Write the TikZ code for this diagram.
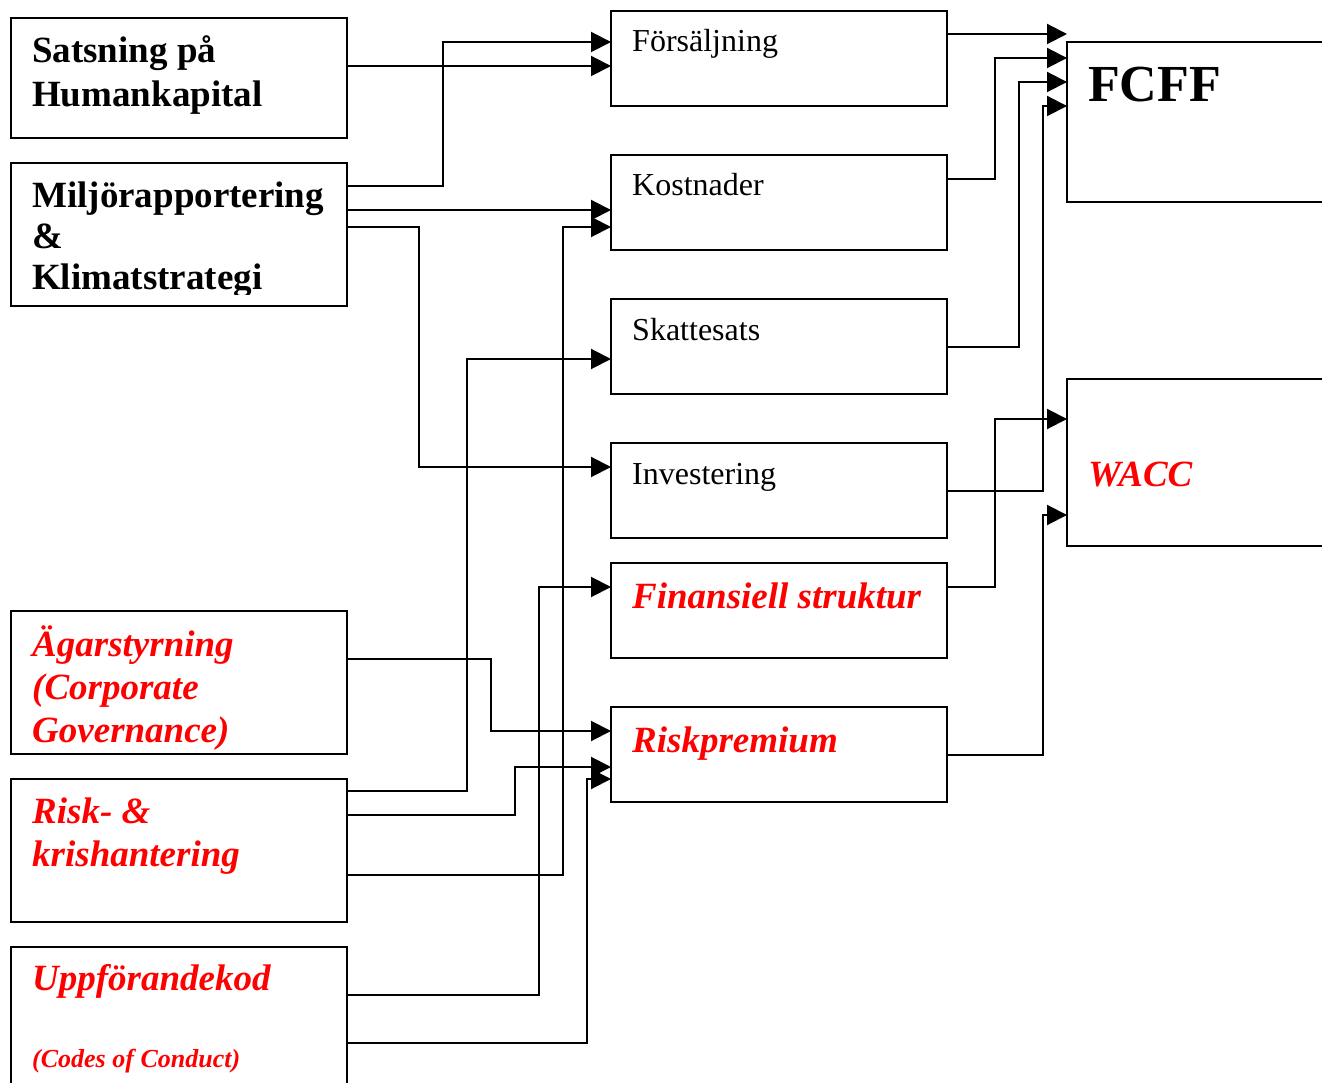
\documentclass[tikz,border=0pt]{standalone}
\usepackage{fontspec}
\setmainfont{Liberation Serif}
\usetikzlibrary{arrows.meta}
\begin{document}
\begin{tikzpicture}[x=1pt,y=-1pt,
  box/.style={draw,line width=2pt,inner sep=0pt,outer sep=0pt,anchor=north west,minimum width=336pt,minimum height=95pt},
  link/.style={line width=2pt},
  arr/.style={link,-{Triangle[length=20pt,width=20pt]}},
  lbl/.style={anchor=base west,inner sep=0pt,align=left},
  bigb/.style={lbl,font=\fontsize{37}{43}\selectfont\bfseries},
  redbi/.style={lbl,text=red,font=\fontsize{37}{43}\selectfont\bfseries\itshape},
  plain/.style={lbl,font=\fontsize{32}{38}\selectfont}]
\useasboundingbox (0,0) rectangle (1322,1083);

% left column: drivers
\node[box,minimum height=120pt] (sat) at (11,18) {};
\node[box,minimum height=143pt] (mil) at (11,163) {};
\node[box,minimum height=143pt] (aga) at (11,611) {};
\node[box,minimum height=143pt] (risk) at (11,779) {};
\node[box,minimum height=160pt] (upp) at (11,947) {};

% middle column: value components
\node[box] (fors) at (611,11) {};
\node[box] (kost) at (611,155) {};
\node[box] (skat) at (611,299) {};
\node[box] (inv) at (611,443) {};
\node[box] (fin) at (611,563) {};
\node[box] (rp) at (611,707) {};

% right column: results
\node[box,minimum width=300pt,minimum height=160pt] (fcff) at (1067,42) {};
\node[box,minimum width=300pt,minimum height=167pt] (wacc) at (1067,379) {};

% labels (multi-line labels are placed by the baseline of their last line)
\node[bigb,font=\fontsize{37}{44}\selectfont\bfseries] (tsat) at (32,107) {Satsning på\\Humankapital};
\begin{scope}
  \clip (13,165) rectangle (345,294);
  \node[bigb,font=\fontsize{37}{41}\selectfont\bfseries] (tmil) at (32,290) {Miljörapportering\\\&\\Klimatstrategi};
\end{scope}
\node[redbi] (taga) at (32,742) {Ägarstyrning\\(Corporate\\Governance)};
\node[redbi] (trisk) at (32,866) {Risk- \&\\krishantering};
\node[redbi] (tupp) at (32,990) {Uppförandekod};
\node[redbi,font=\fontsize{26}{30}\selectfont\bfseries\itshape] (tcoc) at (32,1067) {(Codes of Conduct)};

\node[plain] (tfors) at (632,52) {Försäljning};
\node[plain] (tkost) at (632,196) {Kostnader};
\node[plain] (tskat) at (632,340) {Skattesats};
\node[plain] (tinv) at (632,484) {Investering};
\node[redbi] (tfin) at (632,608) {Finansiell struktur};
\node[redbi] (trp) at (632,752) {Riskpremium};

\node[lbl,font=\fontsize{52}{60}\selectfont\bfseries] (tfcff) at (1088,102) {FCFF};
\node[redbi] (twacc) at (1088,486) {WACC};

% connectors into the middle column
\draw[arr] ([yshift=-48pt]sat.north east) -- ([yshift=-55pt]fors.north west);
\draw[arr] ([yshift=-23pt]mil.north east) -- ++(96,0) |- ([yshift=-31pt]fors.north west);
\draw[arr] ([yshift=-47pt]mil.north east) -- ([yshift=-55pt]kost.north west);
\draw[arr] ([yshift=-64pt]mil.north east) -- ++(72,0) |- ([yshift=-24pt]inv.north west);
\draw[arr] ([yshift=-96pt]risk.north east) -- ++(216,0) |- ([yshift=-72pt]kost.north west);
\draw[arr] ([yshift=-12pt]risk.north east) -- ++(120,0) |- ([yshift=-60pt]skat.north west);
\draw[arr] ([yshift=-36pt]risk.north east) -- ++(168,0) |- ([yshift=-60pt]rp.north west);
\draw[arr] ([yshift=-48pt]aga.north east) -- ++(144,0) |- ([yshift=-24pt]rp.north west);
\draw[arr] ([yshift=-48pt]upp.north east) -- ++(192,0) |- ([yshift=-24pt]fin.north west);
\draw[arr] ([yshift=-96pt]upp.north east) -- ++(240,0) |- ([yshift=-72pt]rp.north west);

% connectors into the results
\draw[arr] ([yshift=-23pt]fors.north east) -- ([yshift=8pt]fcff.north west);
\draw[arr] ([yshift=-24pt]kost.north east) -- ++(48,0) |- ([yshift=-16pt]fcff.north west);
\draw[arr] ([yshift=-48pt]skat.north east) -- ++(72,0) |- ([yshift=-40pt]fcff.north west);
\draw[arr] ([yshift=-48pt]inv.north east) -- ++(96,0) |- ([yshift=-64pt]fcff.north west);
\draw[arr] ([yshift=-24pt]fin.north east) -- ++(48,0) |- ([yshift=-40pt]wacc.north west);
\draw[arr] ([yshift=-48pt]rp.north east) -- ++(96,0) |- ([yshift=-136pt]wacc.north west);
\end{tikzpicture}
\end{document}
